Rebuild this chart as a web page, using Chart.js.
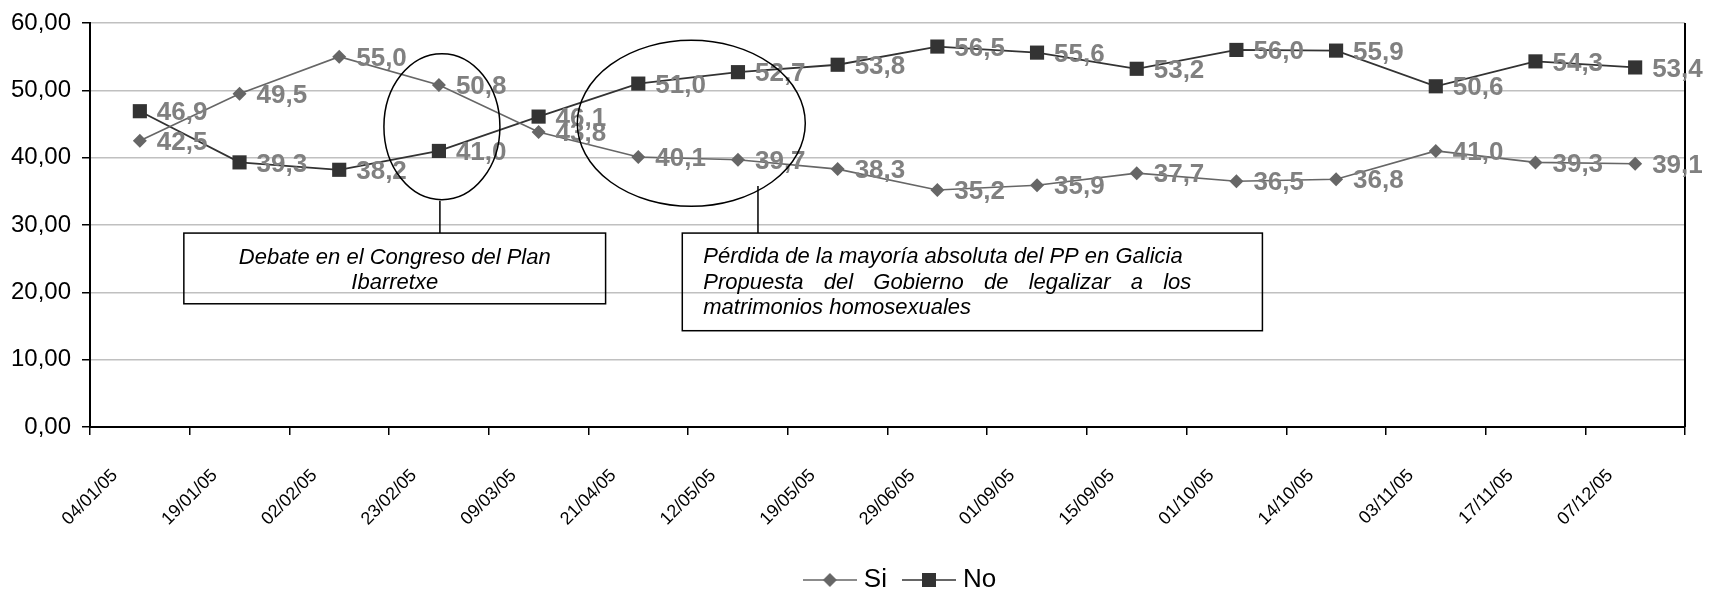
<!DOCTYPE html>
<html>
<head>
<meta charset="utf-8">
<script src="https://cdn.jsdelivr.net/npm/chart.js@4.4.1/dist/chart.umd.min.js"></script>
<style>
html,body{margin:0;padding:0;background:#fff;}
canvas{display:block;}
</style>
</head>
<body>
<canvas id="c" width="1718" height="595"></canvas>
<script>
// ---- data ----
const categories = ['04/01/05','19/01/05','02/02/05','23/02/05','09/03/05','21/04/05','12/05/05','19/05/05','29/06/05','01/09/05','15/09/05','01/10/05','14/10/05','03/11/05','17/11/05','07/12/05'];
const siValues = [42.5,49.5,55.0,50.8,43.8,40.1,39.7,38.3,35.2,35.9,37.7,36.5,36.8,41.0,39.3,39.1];
const noValues = [46.9,39.3,38.2,41.0,46.1,51.0,52.7,53.8,56.5,55.6,53.2,56.0,55.9,50.6,54.3,53.4];
const seriesNames = ['Si','No'];
const yMin = 0, yMax = 60, yStep = 10;
const note1Lines = ['Debate en el Congreso del Plan','Ibarretxe'];
const note2Lines = ['Pérdida de la mayoría absoluta del PP en Galicia','Propuesta del Gobierno de legalizar a los','matrimonios homosexuales'];

const FONT = '"Liberation Sans", Arial, Helvetica, sans-serif';
Chart.defaults.font.family = FONT;
Chart.defaults.color = '#000';

const SI_COLOR = '#666666', NO_COLOR = '#333333';

function legendIcon(color, shape){
  const cv = document.createElement('canvas');
  cv.width = 54; cv.height = 18;
  const g = cv.getContext('2d');
  g.strokeStyle = color; g.lineWidth = 1.6;
  g.beginPath(); g.moveTo(0,9); g.lineTo(54,9); g.stroke();
  g.fillStyle = color;
  if (shape === 'diamond'){
    g.beginPath(); g.moveTo(27,2); g.lineTo(34,9); g.lineTo(27,16); g.lineTo(20,9); g.closePath(); g.fill();
  } else {
    g.fillRect(20,2,14,14);
  }
  return cv;
}
const icons = [legendIcon(SI_COLOR,'diamond'), legendIcon(NO_COLOR,'square')];

const fmt1 = v => v.toFixed(1).replace('.', ',');
const fmt2 = v => Number(v).toFixed(2).replace('.', ',');

const legendShift = {
  id:'legendShift',
  afterLayout(chart){
    if (chart.legend) { chart.legend.left += 30; }
  }
};

const rightBorder = {
  id:'rightBorder',
  beforeDatasetsDraw(chart){
    const {ctx, chartArea:a} = chart;
    ctx.save();
    ctx.strokeStyle = '#000'; ctx.lineWidth = 2;
    ctx.beginPath(); ctx.moveTo(a.right, a.top); ctx.lineTo(a.right, a.bottom); ctx.stroke();
    ctx.restore();
  }
};

const valueLabels = {
  id:'valueLabels',
  afterDatasetsDraw(chart){
    const c = chart.ctx;
    c.save();
    c.font = 'bold 26px ' + FONT;
    c.fillStyle = '#808080';
    c.textAlign = 'left';
    c.textBaseline = 'middle';
    chart.data.datasets.forEach((ds, i) => {
      chart.getDatasetMeta(i).data.forEach((pt, j) => {
        c.fillText(fmt1(ds.data[j]), pt.x + 17, pt.y + 2);
      });
    });
    c.restore();
  }
};

const notes = {
  id:'notes',
  afterDatasetsDraw(chart){
    const {ctx:c, scales:{x, y}} = chart;
    const px = i => x.getPixelForValue(i);
    c.save();
    c.strokeStyle = '#000';
    c.lineWidth = 1.5;
    const boxTop = y.getPixelForValue(28.8);

    // ellipse 1 + connector + box 1
    c.beginPath();
    c.ellipse(px(3) + 3, y.getPixelForValue(44.6), 58, 73, 0, 0, Math.PI * 2);
    c.stroke();
    c.beginPath();
    c.moveTo(px(3) + 1, y.getPixelForValue(33.6)); c.lineTo(px(3) + 1, boxTop); c.stroke();
    const b1l = px(0) + 44, b1r = px(4) + 67, b1b = y.getPixelForValue(18.3);
    c.strokeRect(b1l, boxTop, b1r - b1l, b1b - boxTop);

    // ellipse 2 + connector + box 2
    c.beginPath();
    c.ellipse(px(5) + 53, y.getPixelForValue(45.1), 114, 83, 0, 0, Math.PI * 2);
    c.stroke();
    c.beginPath();
    c.moveTo(px(6) + 20, y.getPixelForValue(35.8)); c.lineTo(px(6) + 20, boxTop); c.stroke();
    const b2l = px(5) + 44, b2r = px(11) + 26, b2b = y.getPixelForValue(14.3);
    c.strokeRect(b2l, boxTop, b2r - b2l, b2b - boxTop);

    // texts
    c.fillStyle = '#000';
    c.font = 'italic 22px ' + FONT;
    c.textBaseline = 'middle';
    c.textAlign = 'center';
    const b1c = (b1l + b1r) / 2;
    note1Lines.forEach((t, k) => c.fillText(t, b1c, boxTop + 25 + k * 25));

    c.textAlign = 'left';
    const tl = b2l + 21, tr = b2l + 509;
    note2Lines.forEach((t, k) => {
      const ty = boxTop + 24 + k * 25.5;
      if (k === 1) {
        const words = t.split(' ');
        const ws = words.map(w => c.measureText(w).width);
        const total = ws.reduce((a, b) => a + b, 0);
        const gap = (tr - tl - total) / (words.length - 1);
        let cx = tl;
        words.forEach((w, m) => { c.fillText(w, cx, ty); cx += ws[m] + gap; });
      } else {
        c.fillText(t, tl, ty);
      }
    });
    c.restore();
  }
};

new Chart(document.getElementById('c'), {
  type:'line',
  data:{
    labels: categories,
    datasets:[
      {label: seriesNames[0], data: siValues, borderColor: SI_COLOR, backgroundColor: SI_COLOR,
       borderWidth: 1.6, pointStyle:'rectRot', pointRadius: 7, pointBorderWidth: 0, pointHoverRadius: 7, tension: 0},
      {label: seriesNames[1], data: noValues, borderColor: NO_COLOR, backgroundColor: NO_COLOR,
       borderWidth: 1.8, pointStyle:'rect', pointRadius: 10, pointBorderWidth: 0, pointHoverRadius: 10, tension: 0}
    ]
  },
  options:{
    responsive:false,
    animation:false,
    devicePixelRatio:1,
    events:[],
    layout:{padding:{top:16, right:33, left:0, bottom:-8}},
    plugins:{
      tooltip:{enabled:false},
      legend:{
        position:'bottom',
        fullSize:false,
        labels:{
          usePointStyle:true,
          pointStyleWidth:42,
          font:{size:26, family:FONT},
          color:'#000',
          padding:21,
          generateLabels(chart){
            return chart.data.datasets.map((ds, i) => ({
              text: ds.label, pointStyle: icons[i], fillStyle: ds.borderColor,
              strokeStyle: ds.borderColor, lineWidth: 0, hidden: false, datasetIndex: i, fontColor:'#000'
            }));
          }
        }
      }
    },
    scales:{
      x:{
        offset:true,
        grid:{offset:true, drawOnChartArea:false, drawTicks:true, tickLength:8, color:'#000', lineWidth:1.5},
        border:{color:'#000', width:2},
        ticks:{minRotation:45, maxRotation:45, autoSkip:false, labelOffset:-25, padding:30,
               font:{size:18, family:FONT}, color:'#000'},
        afterFit(s){ s.height = 119; }
      },
      y:{
        min:yMin, max:yMax,
        ticks:{stepSize:yStep, padding:11, font:{size:24, family:FONT, lineHeight:1}, color:'#000', callback: v => fmt2(v)},
        grid:{color:'#c0c0c0', lineWidth:1.5, tickColor:'#000', tickLength:8},
        border:{color:'#000', width:2},
        afterFit(s){ s.width = 90; }
      }
    }
  },
  plugins:[legendShift, rightBorder, valueLabels, notes]
});
</script>
</body>
</html>
